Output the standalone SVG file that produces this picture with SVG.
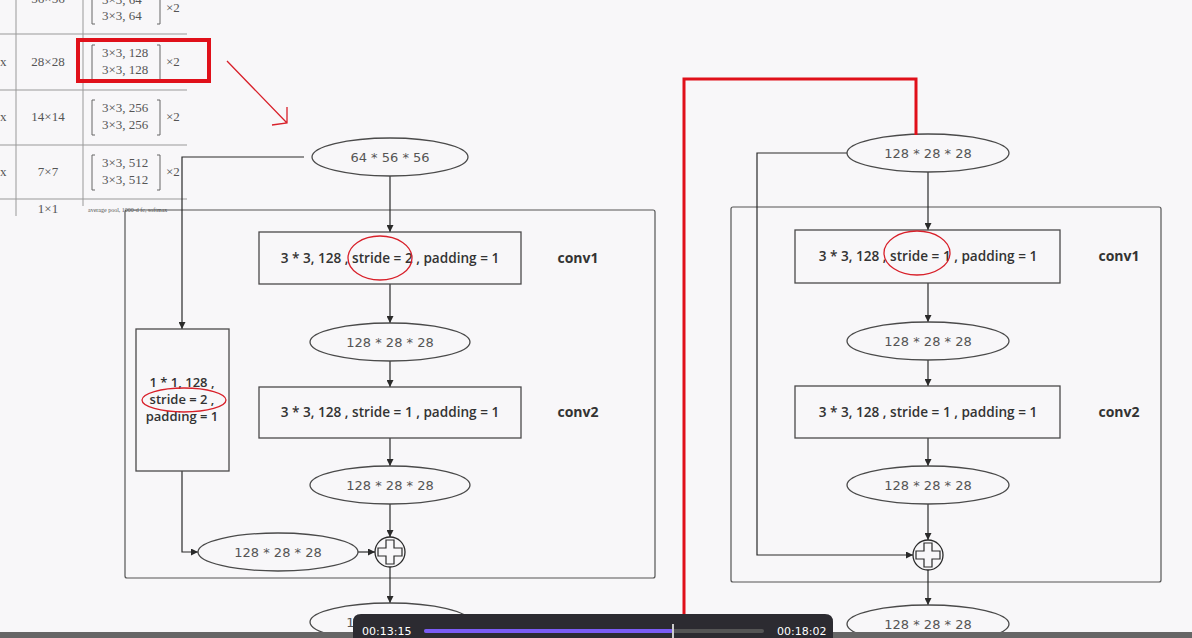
<svg xmlns="http://www.w3.org/2000/svg" width="1192" height="638" viewBox="0 0 1192 638">
<defs>
<marker id="ah" viewBox="0 0 10 10" refX="10" refY="5" markerWidth="7" markerHeight="7" markerUnits="userSpaceOnUse" orient="auto"><path d="M0,0 L10,5 L0,10 z" fill="#2a2a2a"/></marker>
<style>
.tbl{font-family:"Liberation Serif",serif;font-size:13px;fill:#555}
.tl{stroke:#999;stroke-width:1}
.br{fill:none;stroke:#666;stroke-width:1}
.el{fill:#f8f7f9;stroke:#4a4a4a;stroke-width:1.3}
.et{font-family:"DejaVu Sans",sans-serif;font-size:13px;fill:#555;text-anchor:middle}
.bx{fill:#f8f7f9;stroke:#4a4a4a;stroke-width:1.3}
.bt{font-family:"Open Sans",sans-serif;font-weight:600;font-size:13.6px;fill:#333;text-anchor:middle}
.bs{font-family:"Open Sans",sans-serif;font-weight:600;font-size:13px;fill:#333;text-anchor:middle}
.lb{font-family:"Open Sans",sans-serif;font-weight:700;font-size:14px;fill:#333;text-anchor:middle}
.grp{fill:none;stroke:#555;stroke-width:1.2}
.cn{fill:none;stroke:#2a2a2a;stroke-width:1.2}
.red{fill:none;stroke:#d8202a;stroke-width:1.3}
.pt{font-family:"DejaVu Sans",sans-serif;font-size:11px;fill:#fff}
</style>
</defs>
<rect x="0" y="0" width="1192" height="638" fill="#f8f7f9"/>

<!-- table -->
<g id="table">
<line class="tl" x1="0" y1="34" x2="187" y2="34"/>
<line class="tl" x1="0" y1="90" x2="187" y2="90"/>
<line class="tl" x1="0" y1="145" x2="187" y2="145"/>
<line class="tl" x1="0" y1="199" x2="187" y2="199"/>
<line class="tl" x1="16" y1="0" x2="16" y2="216"/>
<line class="tl" x1="83" y1="0" x2="83" y2="206"/>
<text class="tbl" x="48" y="3" text-anchor="middle">56×56</text>
<text class="tbl" x="102" y="4">3×3, 64</text>
<text class="tbl" x="102" y="20">3×3, 64</text>
<text class="tbl" x="166" y="12">×2</text>
<path class="br" d="M95,-6 H92 V24 H95 M157,-6 H160 V24 H157"/>
<text class="tbl" x="0" y="66">x</text>
<text class="tbl" x="48" y="66" text-anchor="middle">28×28</text>
<text class="tbl" x="102" y="57">3×3, 128</text>
<text class="tbl" x="102" y="74">3×3, 128</text>
<text class="tbl" x="166" y="66">×2</text>
<path class="br" d="M95,45 H92 V80 H95 M157,45 H160 V80 H157"/>
<text class="tbl" x="0" y="121">x</text>
<text class="tbl" x="48" y="121" text-anchor="middle">14×14</text>
<text class="tbl" x="102" y="112">3×3, 256</text>
<text class="tbl" x="102" y="129">3×3, 256</text>
<text class="tbl" x="166" y="121">×2</text>
<path class="br" d="M95,100 H92 V135 H95 M157,100 H160 V135 H157"/>
<text class="tbl" x="0" y="176">x</text>
<text class="tbl" x="48" y="176" text-anchor="middle">7×7</text>
<text class="tbl" x="102" y="167">3×3, 512</text>
<text class="tbl" x="102" y="184">3×3, 512</text>
<text class="tbl" x="166" y="176">×2</text>
<path class="br" d="M95,155 H92 V190 H95 M157,155 H160 V190 H157"/>
<text class="tbl" x="48" y="213" text-anchor="middle">1×1</text>
<text class="tbl" x="88" y="212" style="font-size:6px">average pool, 1000-d fc, softmax</text>
<rect x="78" y="40" width="131" height="41" fill="none" stroke="#e0101a" stroke-width="4"/>
<path class="red" d="M227,61 L287,123 M287,107 L287,123 L272,125" stroke-width="1.6"/>
</g>

<!-- groups (outer frames) -->
<g id="frame-left"><rect class="grp" x="125" y="210" width="530" height="368" rx="2"/></g>
<g id="frame-right"><rect class="grp" x="731" y="207" width="430" height="375" rx="2"/></g>

<!-- connectors -->
<g id="connectors">
<line class="cn" x1="390" y1="176" x2="390" y2="232" marker-end="url(#ah)"/>
<path class="cn" d="M304,157 H182 V329" marker-end="url(#ah)"/>
<line class="cn" x1="390" y1="284" x2="390" y2="323" marker-end="url(#ah)"/>
<line class="cn" x1="390" y1="361" x2="390" y2="387" marker-end="url(#ah)"/>
<line class="cn" x1="390" y1="438" x2="390" y2="466" marker-end="url(#ah)"/>
<line class="cn" x1="390" y1="504" x2="390" y2="537" marker-end="url(#ah)"/>
<path class="cn" d="M182,471 V552 H198" marker-end="url(#ah)"/>
<line class="cn" x1="358" y1="552" x2="375" y2="552" marker-end="url(#ah)"/>
<line class="cn" x1="390" y1="567" x2="390" y2="603" marker-end="url(#ah)"/>

<line class="cn" x1="928" y1="172" x2="928" y2="230" marker-end="url(#ah)"/>
<line class="cn" x1="928" y1="283" x2="928" y2="322" marker-end="url(#ah)"/>
<line class="cn" x1="928" y1="360" x2="928" y2="386" marker-end="url(#ah)"/>
<line class="cn" x1="928" y1="438" x2="928" y2="466" marker-end="url(#ah)"/>
<line class="cn" x1="928" y1="504" x2="928" y2="540" marker-end="url(#ah)"/>
<path class="cn" d="M847,153 H757 V555 H913" marker-end="url(#ah)"/>
<line class="cn" x1="928" y1="570" x2="928" y2="605" marker-end="url(#ah)"/>
</g>

<!-- left diagram nodes -->
<g id="in-left"><ellipse class="el" cx="390" cy="157" rx="78" ry="19"/><text class="et" x="390" y="162">64 * 56 * 56</text></g>
<g id="conv1-left"><rect class="bx" x="259" y="232" width="262" height="52"/><text class="bt" x="390" y="263">3 * 3, 128 , stride = 2 , padding = 1</text><text class="lb" x="578" y="263">conv1</text></g>
<g id="mid1-left"><ellipse class="el" cx="390" cy="342" rx="80" ry="19"/><text class="et" x="390" y="347">128 * 28 * 28</text></g>
<g id="conv2-left"><rect class="bx" x="259" y="387" width="262" height="51"/><text class="bt" x="390" y="417">3 * 3, 128 , stride = 1 , padding = 1</text><text class="lb" x="578" y="417">conv2</text></g>
<g id="mid2-left"><ellipse class="el" cx="390" cy="485" rx="80" ry="19"/><text class="et" x="390" y="490">128 * 28 * 28</text></g>
<g id="short-left"><rect class="bx" x="136" y="329" width="93" height="142"/>
<text class="bs" x="182" y="387">1 * 1, 128 ,</text><text class="bs" x="182" y="404">stride = 2 ,</text><text class="bs" x="182" y="421">padding = 1</text></g>
<g id="short-out-left"><ellipse class="el" cx="278" cy="552" rx="80" ry="19"/><text class="et" x="278" y="557">128 * 28 * 28</text></g>
<g id="add-left"><circle cx="390" cy="552" r="15" fill="#f8f7f9" stroke="#2a2a2a" stroke-width="1.3"/><path d="M386,540 H394 V548 H402 V556 H394 V564 H386 V556 H378 V548 H386 Z" fill="none" stroke="#2a2a2a" stroke-width="1.2"/></g>
<g id="out-left"><ellipse class="el" cx="390" cy="622" rx="80" ry="19"/><text class="et" x="390" y="627">128 * 28 * 28</text></g>

<!-- right diagram nodes -->
<g id="in-right"><ellipse class="el" cx="928" cy="153" rx="81" ry="19"/><text class="et" x="928" y="158">128 * 28 * 28</text></g>
<g id="conv1-right"><rect class="bx" x="795" y="230" width="265" height="53"/><text class="bt" x="928" y="261">3 * 3, 128 , stride = 1 , padding = 1</text><text class="lb" x="1119" y="261">conv1</text></g>
<g id="mid1-right"><ellipse class="el" cx="928" cy="341" rx="81" ry="19"/><text class="et" x="928" y="346">128 * 28 * 28</text></g>
<g id="conv2-right"><rect class="bx" x="795" y="386" width="265" height="52"/><text class="bt" x="928" y="417">3 * 3, 128 , stride = 1 , padding = 1</text><text class="lb" x="1119" y="417">conv2</text></g>
<g id="mid2-right"><ellipse class="el" cx="928" cy="485" rx="81" ry="19"/><text class="et" x="928" y="490">128 * 28 * 28</text></g>
<g id="add-right"><circle cx="928" cy="555" r="15" fill="#f8f7f9" stroke="#2a2a2a" stroke-width="1.3"/><path d="M924,543 H932 V551 H940 V559 H932 V567 H924 V559 H916 V551 H924 Z" fill="none" stroke="#2a2a2a" stroke-width="1.2"/></g>
<g id="out-right"><ellipse class="el" cx="928" cy="624" rx="81" ry="19"/><text class="et" x="928" y="629">128 * 28 * 28</text></g>

<!-- red annotations -->
<g id="annotations">
<ellipse class="red" cx="380" cy="258" rx="32" ry="22"/>
<ellipse class="red" cx="184" cy="400" rx="42" ry="12"/>
<ellipse class="red" cx="917" cy="253" rx="33" ry="22"/>
<path d="M684,614 V79 H916 V135" fill="none" stroke="#e0101a" stroke-width="3"/>
</g>

<!-- bottom bar and player -->
<rect x="0" y="632" width="1192" height="6" fill="#666"/>
<g id="player">
<path d="M353,638 V622 Q353,614 361,614 H825 Q833,614 833,622 V638 Z" fill="#2c2b31"/>
<text class="pt" x="362" y="635">00:13:15</text>
<rect x="424" y="629" width="340" height="4" rx="2" fill="#555"/>
<rect x="424" y="629" width="249" height="4" rx="2" fill="#7b5cf5"/>
<rect x="672" y="624" width="2" height="14" fill="#ccc"/>
<text class="pt" x="777" y="635">00:18:02</text>
</g>
</svg>
